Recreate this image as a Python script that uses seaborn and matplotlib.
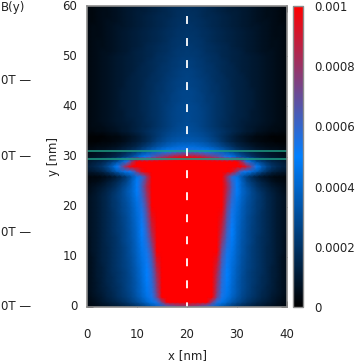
import numpy as np
import pandas as pd
import matplotlib
matplotlib.use("Agg")
import matplotlib.pyplot as plt
from matplotlib.colors import LinearSegmentedColormap
import seaborn as sns

# field, units of 1e-5, left half x = 0..20 nm, rows y = 0..60 nm
half_field = [
    [3, 4, 5, 6, 7, 9, 10, 12, 14, 16, 19, 23, 27, 32, 38, 45, 52, 60, 66, 70, 72],
    [4, 5, 7, 9, 11, 13, 15, 18, 21, 25, 29, 34, 40, 46, 56, 75, 105, 130, 130, 130, 130],
    [4, 6, 8, 10, 13, 15, 18, 21, 24, 28, 33, 39, 45, 54, 72, 100, 130, 130, 130, 130, 130],
    [5, 7, 9, 11, 14, 16, 19, 22, 25, 29, 35, 41, 47, 56, 76, 102, 130, 130, 130, 130, 130],
    [5, 7, 9, 12, 14, 17, 19, 22, 26, 30, 35, 41, 48, 57, 78, 104, 130, 130, 130, 130, 130],
    [5, 7, 9, 12, 15, 17, 20, 23, 26, 30, 35, 42, 49, 58, 80, 106, 130, 130, 130, 130, 130],
    [5, 7, 10, 12, 15, 17, 20, 23, 26, 30, 36, 42, 50, 59, 82, 108, 130, 130, 130, 130, 130],
    [5, 7, 10, 12, 15, 18, 20, 23, 26, 31, 36, 43, 50, 60, 85, 110, 130, 130, 130, 130, 130],
    [5, 7, 10, 12, 15, 18, 21, 24, 27, 31, 37, 43, 51, 62, 88, 112, 130, 130, 130, 130, 130],
    [5, 7, 10, 13, 15, 18, 21, 24, 27, 32, 38, 44, 52, 64, 92, 115, 130, 130, 130, 130, 130],
    [5, 7, 10, 13, 15, 18, 21, 24, 28, 32, 38, 45, 53, 66, 95, 120, 130, 130, 130, 130, 130],
    [5, 8, 10, 13, 15, 18, 21, 24, 28, 33, 39, 46, 54, 69, 100, 125, 130, 130, 130, 130, 130],
    [5, 8, 10, 13, 15, 18, 21, 24, 28, 33, 39, 47, 56, 73, 104, 130, 130, 130, 130, 130, 130],
    [5, 8, 10, 13, 16, 18, 21, 25, 29, 33, 40, 48, 58, 77, 108, 130, 130, 130, 130, 130, 130],
    [5, 8, 10, 13, 16, 18, 21, 25, 29, 34, 40, 49, 60, 81, 112, 130, 130, 130, 130, 130, 130],
    [6, 8, 10, 13, 16, 19, 22, 25, 29, 34, 41, 50, 62, 85, 115, 130, 130, 130, 130, 130, 130],
    [6, 8, 10, 13, 16, 19, 22, 25, 30, 35, 41, 51, 64, 88, 118, 130, 130, 130, 130, 130, 130],
    [6, 8, 10, 13, 16, 19, 22, 26, 30, 35, 42, 52, 66, 91, 122, 130, 130, 130, 130, 130, 130],
    [6, 8, 10, 13, 16, 19, 22, 26, 30, 36, 42, 53, 68, 94, 125, 130, 130, 130, 130, 130, 130],
    [6, 8, 10, 13, 16, 19, 23, 27, 31, 36, 43, 54, 70, 97, 128, 130, 130, 130, 130, 130, 130],
    [6, 8, 10, 13, 16, 20, 23, 27, 31, 37, 44, 56, 73, 100, 130, 130, 130, 130, 130, 130, 130],
    [6, 8, 10, 13, 16, 20, 23, 28, 32, 38, 45, 58, 76, 103, 130, 130, 130, 130, 130, 130, 130],
    [6, 8, 10, 13, 16, 20, 24, 28, 33, 39, 47, 60, 79, 106, 130, 130, 130, 130, 130, 130, 130],
    [5, 7, 9, 12, 15, 19, 23, 28, 34, 40, 49, 62, 82, 108, 130, 130, 130, 130, 130, 130, 130],
    [4, 6, 8, 10, 13, 16, 20, 26, 32, 39, 49, 64, 85, 110, 130, 130, 130, 130, 130, 130, 130],
    [3, 4, 5, 7, 10, 13, 17, 22, 28, 38, 49, 62, 82, 104, 125, 130, 130, 130, 130, 130, 130],
    [2, 3, 3, 4, 6, 8, 12, 17, 24, 34, 46, 58, 78, 102, 125, 130, 130, 130, 130, 130, 130],
    [8, 9, 11, 14, 19, 26, 34, 42, 48, 54, 75, 95, 115, 125, 130, 130, 130, 130, 130, 130, 130],
    [12, 14, 17, 21, 28, 37, 50, 68, 88, 110, 125, 130, 130, 130, 130, 130, 130, 130, 130, 130, 130],
    [9, 11, 13, 15, 19, 24, 30, 40, 55, 80, 105, 120, 130, 130, 130, 130, 130, 130, 130, 130, 130],
    [6, 7, 8, 9, 11, 13, 16, 20, 25, 31, 38, 46, 54, 62, 70, 76, 82, 88, 92, 94, 95],
    [5, 5, 6, 7, 8, 9, 11, 13, 16, 19, 23, 28, 33, 38, 42, 46, 49, 52, 54, 56, 57],
    [3, 3, 4, 4, 5, 6, 7, 9, 11, 13, 16, 20, 24, 28, 32, 35, 38, 40, 42, 43, 43],
    [1, 1, 1, 2, 2, 3, 4, 5, 7, 9, 11, 14, 17, 21, 25, 28, 31, 33, 34, 35, 35],
    [1, 1, 1, 1, 2, 3, 3, 5, 6, 8, 10, 13, 16, 19, 22, 25, 28, 30, 31, 32, 33],
    [3, 3, 4, 4, 5, 6, 7, 9, 10, 12, 14, 16, 18, 20, 22, 24, 26, 28, 29, 30, 31],
    [3, 4, 4, 5, 6, 7, 8, 9, 10, 12, 13, 15, 16, 18, 20, 22, 24, 26, 28, 29, 30],
    [3, 4, 5, 6, 7, 8, 9, 10, 11, 12, 14, 15, 17, 18, 20, 22, 24, 26, 27, 28, 29],
    [3, 4, 5, 6, 7, 8, 9, 10, 12, 13, 14, 15, 17, 19, 20, 22, 24, 26, 27, 28, 29],
    [3, 4, 5, 6, 7, 8, 9, 10, 12, 13, 14, 16, 17, 19, 20, 22, 24, 26, 27, 28, 28],
    [3, 4, 5, 6, 7, 8, 9, 11, 12, 13, 14, 16, 17, 19, 20, 22, 24, 25, 27, 28, 28],
    [3, 4, 5, 6, 7, 8, 9, 11, 12, 13, 14, 16, 17, 19, 20, 22, 23, 25, 26, 27, 28],
    [3, 4, 5, 6, 7, 8, 9, 11, 12, 13, 14, 16, 17, 19, 20, 22, 23, 25, 26, 27, 27],
    [3, 4, 5, 6, 7, 8, 9, 11, 12, 13, 14, 16, 17, 18, 20, 21, 23, 24, 26, 27, 27],
    [3, 4, 5, 6, 7, 8, 9, 10, 12, 13, 14, 15, 17, 18, 20, 21, 23, 24, 25, 26, 27],
    [3, 4, 5, 6, 7, 8, 9, 10, 12, 13, 14, 15, 17, 18, 19, 21, 22, 24, 25, 26, 26],
    [3, 4, 5, 6, 7, 8, 9, 10, 11, 13, 14, 15, 16, 18, 19, 20, 22, 23, 24, 25, 26],
    [3, 4, 5, 6, 7, 8, 9, 10, 11, 12, 14, 15, 16, 17, 19, 20, 21, 23, 24, 25, 25],
    [3, 4, 5, 6, 7, 8, 9, 10, 11, 12, 13, 15, 16, 17, 18, 20, 21, 22, 23, 24, 25],
    [3, 4, 5, 6, 7, 8, 9, 10, 11, 12, 13, 14, 16, 17, 18, 19, 20, 22, 23, 24, 24],
    [3, 4, 5, 6, 7, 8, 9, 10, 11, 12, 13, 14, 15, 16, 18, 19, 20, 21, 22, 23, 23],
    [3, 4, 5, 6, 6, 7, 8, 9, 10, 12, 13, 14, 15, 16, 17, 18, 19, 21, 22, 22, 23],
    [3, 4, 5, 5, 6, 7, 8, 9, 10, 11, 12, 13, 15, 16, 17, 18, 19, 20, 21, 22, 22],
    [3, 4, 5, 5, 6, 7, 8, 9, 10, 11, 12, 13, 14, 15, 16, 17, 18, 20, 21, 21, 22],
    [3, 4, 4, 5, 6, 7, 8, 9, 10, 11, 12, 13, 14, 15, 16, 17, 18, 19, 20, 21, 21],
    [3, 4, 4, 5, 6, 7, 8, 9, 10, 11, 12, 13, 14, 15, 16, 17, 18, 19, 20, 20, 21],
    [3, 4, 4, 5, 6, 7, 8, 8, 9, 10, 11, 12, 13, 14, 15, 16, 17, 18, 19, 20, 20],
    [3, 3, 4, 5, 6, 6, 7, 8, 9, 10, 11, 12, 13, 14, 15, 16, 17, 18, 19, 19, 20],
    [3, 3, 4, 5, 5, 6, 7, 8, 9, 10, 11, 12, 13, 14, 15, 16, 16, 17, 18, 19, 19],
    [3, 3, 4, 5, 5, 6, 7, 8, 9, 10, 11, 11, 12, 13, 14, 15, 16, 17, 18, 18, 19],
    [3, 3, 4, 4, 5, 6, 7, 8, 9, 9, 10, 11, 12, 13, 14, 15, 16, 17, 17, 18, 18],
]
x_ticks = [0, 10, 20, 30, 40]
y_ticks = [0, 10, 20, 30, 40, 50, 60]
cbar_ticks = [0, 0.0002, 0.0004, 0.0006, 0.0008, 0.001]
cbar_labels = ["0", "0.0002", "0.0004", "0.0006", "0.0008", "0.001"]
green_lines = [29.5, 31]
center_x = 20
dash_y = [58, 0]
b_rows = [81, 156, 232, 307]

half = np.array(half_field) * 1e-5
field = pd.DataFrame(np.hstack([half, half[:, -2::-1]]))

cmap = LinearSegmentedColormap.from_list("bfield", ["#000000", "#0080ff", "#ff0000"])
frame = "#8c8c8c"
txt = "#222222"
fs = 8.5

sns.set_theme(style="white", font="DejaVu Sans")
fig = plt.figure(figsize=(3.58, 3.63), dpi=100)
ax = fig.add_axes([87 / 358, 1 - 307 / 363, 200 / 358, 301 / 363])
cax = fig.add_axes([293 / 358, 1 - 307 / 363, 10 / 358, 301 / 363])

# gouraud shading so the read values blend like the original smooth map
sns.heatmap(field, ax=ax, cbar_ax=cax, cmap=cmap, vmin=0, vmax=0.001,
            shading="gouraud", cbar_kws={"ticks": cbar_ticks})

ax.set_xlim(0, 40)
ax.set_ylim(0, 60)
ax.set_xticks(x_ticks)
ax.set_yticks(y_ticks)
ax.set_xticklabels(x_ticks, rotation=0, fontsize=fs, color=txt)
ax.set_yticklabels(y_ticks, rotation=0, fontsize=fs, color=txt)
ax.tick_params(axis="x", direction="in", length=4, width=0.6, color="#222222", pad=15, bottom=True, top=True)
ax.tick_params(axis="y", direction="in", length=4, width=0.6, color="#222222", pad=7, left=True, right=True)
ax.set_xlabel("x [nm]", fontsize=fs, color=txt, labelpad=6)
ax.set_ylabel("y [nm]", fontsize=fs, color=txt, labelpad=2)

for y_line in green_lines:
    ax.axhline(y_line, color="#1f9d84", lw=1.1)
ax.plot([center_x, center_x], dash_y, color="white", lw=1.3, dashes=(4.4, 7.8))

for spine in ax.spines.values():
    spine.set_visible(True)
    spine.set_color(frame)
    spine.set_linewidth(1.2)

cbar = ax.collections[0].colorbar
cbar.ax.set_yticklabels(cbar_labels, fontsize=fs, color=txt)
cbar.ax.tick_params(axis="y", direction="in", length=7, width=0.6, color="#222222", pad=8, right=True)
cbar.outline.set_visible(True)
cbar.outline.set_edgecolor(frame)
cbar.outline.set_linewidth(1.0)

fig.text(1 / 358, 1 - 7 / 363, "B(y)", fontsize=fs, color=txt, va="center")
for row in b_rows:
    fig.text(1 / 358, 1 - row / 363, "0T —", fontsize=fs, color=txt, va="center")

fig.savefig("out.png", dpi=100)
